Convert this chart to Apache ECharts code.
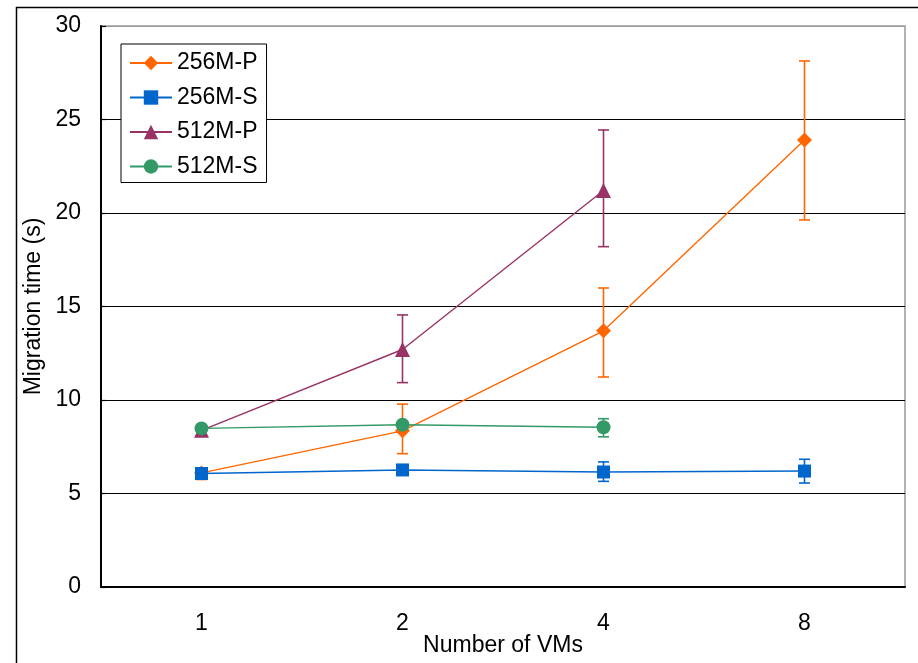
<!DOCTYPE html>
<html>
<head>
<meta charset="utf-8">
<script src="https://cdn.jsdelivr.net/npm/echarts@6/dist/echarts.min.js"></script>
<style>
  html, body { margin: 0; padding: 0; background: #fff; }
  #chart { width: 918px; height: 663px; }
</style>
</head>
<body>
<div id="chart"></div>
<script>
// Number of VMs on the x axis
const categories = ['1', '2', '4', '8'];
const yTicks = [0, 5, 10, 15, 20, 25, 30];

// Mean migration time (s) per configuration
const p256 = [6.1, 8.35, 13.7, 23.9];
const s256 = [6.07, 6.26, 6.15, 6.2];
const p512 = [8.38, 12.7, 21.2, null];
const s512 = [8.48, 8.68, 8.54, null];

// Error ranges [low, high] for each point (null where the bar is not shown)
const p256Err = [[5.75, 6.3], [7.13, 9.78], [11.23, 15.99], [19.63, 28.13]];
const s256Err = [null, null, [5.65, 6.69], [5.56, 6.83]];
const p512Err = [null, [10.93, 14.55], [18.2, 24.44], null];
const s512Err = [null, null, [8.03, 9.0], null];

const COLORS = {
  p256: '#FF6600',
  s256: '#0066CC',
  p512: '#993366',
  s512: '#339966'
};
const FONT = 'Liberation Sans, Arial, Helvetica, sans-serif';

function errRows(errs) {
  const rows = [];
  errs.forEach((e, i) => { if (e) rows.push([i, e[0], e[1]]); });
  return rows;
}

function errorSeries(errs, color, z) {
  return {
    type: 'custom',
    z: z,
    silent: true,
    data: errRows(errs),
    encode: { x: 0, y: [1, 2] },
    renderItem: function (params, api) {
      const lo = api.coord([api.value(0), api.value(1)]);
      const hi = api.coord([api.value(0), api.value(2)]);
      const half = 5.5;
      const style = { stroke: color, lineWidth: 1.6 };
      return {
        type: 'group',
        children: [
          { type: 'line', shape: { x1: lo[0], y1: lo[1], x2: hi[0], y2: hi[1] }, style: style },
          { type: 'line', shape: { x1: lo[0] - half, y1: lo[1], x2: lo[0] + half, y2: lo[1] }, style: style },
          { type: 'line', shape: { x1: hi[0] - half, y1: hi[1], x2: hi[0] + half, y2: hi[1] }, style: style }
        ]
      };
    }
  };
}

function lineSeries(name, data, color, symbol, size, z) {
  return {
    name: name,
    type: 'line',
    data: data,
    z: z,
    symbol: symbol,
    symbolSize: size,
    showAllSymbol: true,
    connectNulls: false,
    itemStyle: { color: color },
    lineStyle: { color: color, width: 1.4 },
    emphasis: { disabled: true }
  };
}

const chart = echarts.init(document.getElementById('chart'), null, { renderer: 'canvas' });

chart.setOption({
  animation: false,
  backgroundColor: '#fff',
  textStyle: { fontFamily: FONT },
  graphic: [{
    type: 'rect',
    left: 14, top: 5,
    shape: { width: 1000, height: 1000 },
    style: { fill: 'none', stroke: '#000', lineWidth: 1.5 },
    z: -10
  }],
  grid: {
    left: 101, top: 26, right: 13, bottom: 76,
    outerBoundsMode: 'none',
    containLabel: false,
    show: true,
    borderColor: '#999',
    borderWidth: 1.5
  },
  legend: {
    orient: 'vertical',
    left: 121, top: 44,
    data: ['256M-P', '256M-S', '512M-P', '512M-S'],
    itemWidth: 42,
    itemHeight: 18,
    itemGap: 10.5,
    padding: [7, 9, 4, 8],
    backgroundColor: '#fff',
    borderColor: '#000',
    borderWidth: 1,
    textStyle: { fontFamily: FONT, fontSize: 23, color: '#000', lineHeight: 24 }
  },
  xAxis: {
    type: 'category',
    data: categories,
    boundaryGap: true,
    name: 'Number of VMs',
    nameLocation: 'middle',
    nameGap: 47,
    nameMoveOverlap: false,
    nameTextStyle: { fontFamily: FONT, fontSize: 23, color: '#000', verticalAlign: 'top' },
    axisLine: { lineStyle: { color: '#000', width: 2 } },
    axisTick: { inside: true, length: 8, lineStyle: { color: '#000', width: 1.2 } },
    axisLabel: { margin: 25, fontFamily: FONT, fontSize: 23, color: '#000' },
    splitLine: { show: false }
  },
  yAxis: {
    type: 'value',
    min: yTicks[0],
    max: yTicks[yTicks.length - 1],
    interval: 5,
    name: 'Migration time (s)',
    nameLocation: 'middle',
    nameGap: 56,
    nameMoveOverlap: false,
    nameTextStyle: { fontFamily: FONT, fontSize: 23, color: '#000' },
    axisLine: { show: true, lineStyle: { color: '#000', width: 2 } },
    axisTick: { show: true, inside: true, length: 5, lineStyle: { color: '#000', width: 1.2 } },
    axisLabel: { margin: 20, fontFamily: FONT, fontSize: 23, color: '#000' },
    splitLine: {
      show: true,
      lineStyle: { color: ['#000', '#000', '#000', '#000', '#000', '#000', '#999'], width: 1.2 }
    }
  },
  series: [
    errorSeries(p256Err, COLORS.p256, 2),
    errorSeries(p512Err, COLORS.p512, 2),
    errorSeries(s256Err, COLORS.s256, 2),
    errorSeries(s512Err, COLORS.s512, 2),
    lineSeries('256M-P', p256, COLORS.p256, 'diamond', 15, 3),
    lineSeries('512M-P', p512, COLORS.p512, 'triangle', 15, 3),
    lineSeries('256M-S', s256, COLORS.s256, 'rect', 13, 4),
    lineSeries('512M-S', s512, COLORS.s512, 'circle', 14, 4)
  ]
});
</script>
</body>
</html>
